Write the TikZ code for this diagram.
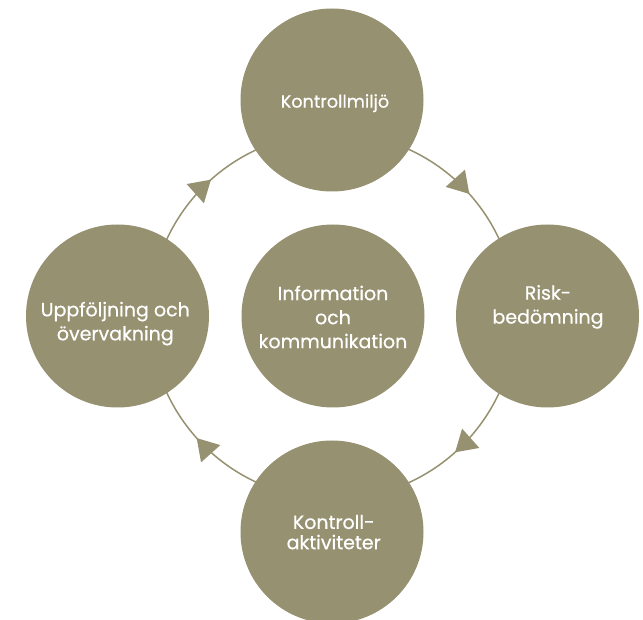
\documentclass[tikz,border=0pt]{standalone}
\usepackage{fontspec}
\setmainfont{Poppins}[FakeBold=0.6]
\usetikzlibrary{arrows.meta,decorations.markings,backgrounds}
\definecolor{sage}{RGB}{150,145,112}
\begin{document}
\begin{tikzpicture}[x=1pt,y=1pt,
  disc/.style={circle,fill=sage,minimum size=183pt,inner sep=0pt},
  lbl/.style={text=white,align=center,font=\fontsize{19}{24}\selectfont},
  ring/.style={draw,color=sage,line width=1.5pt,postaction={decorate},
    decoration={markings,mark=at position 0.535 with {\arrow{Triangle[length=21pt,width=25.5pt]}}}}]
\useasboundingbox (0,0) rectangle (643,619);
\coordinate (hub) at (333,303);
\node[disc] (top) at (332,519) {};
\node[disc] (right) at (547.5,303) {};
\node[disc] (bottom) at (332,87) {};
\node[disc] (left) at (117.5,303) {};
\node[disc] (mid) at (333,303) {};
\node[lbl,font=\fontsize{17.6}{24}\selectfont] (topT) at (335,515.8) {Kontrollmiljö};
\node[lbl] (rightT) at (548,312.1) {Risk-\\bedömning};
\node[lbl,font=\fontsize{19}{20.3}\selectfont] (bottomT) at (333.7,86.9) {Kontroll-\\aktiviteter};
\node[lbl] (leftT) at (115.3,295.4) {Uppföljning och\\övervakning};
\node[lbl] (midT) at (333,302) {Information\\och\\kommunikation};
\begin{scope}[on background layer]
\draw[ring] ([shift={(90:183)}]hub) arc[start angle=90,end angle=0,radius=183];
\draw[ring] ([shift={(0:183)}]hub) arc[start angle=0,end angle=-90,radius=183];
\draw[ring] ([shift={(-90:183)}]hub) arc[start angle=-90,end angle=-180,radius=183];
\draw[ring] ([shift={(180:183)}]hub) arc[start angle=180,end angle=90,radius=183];
\end{scope}
\end{tikzpicture}
\end{document}
